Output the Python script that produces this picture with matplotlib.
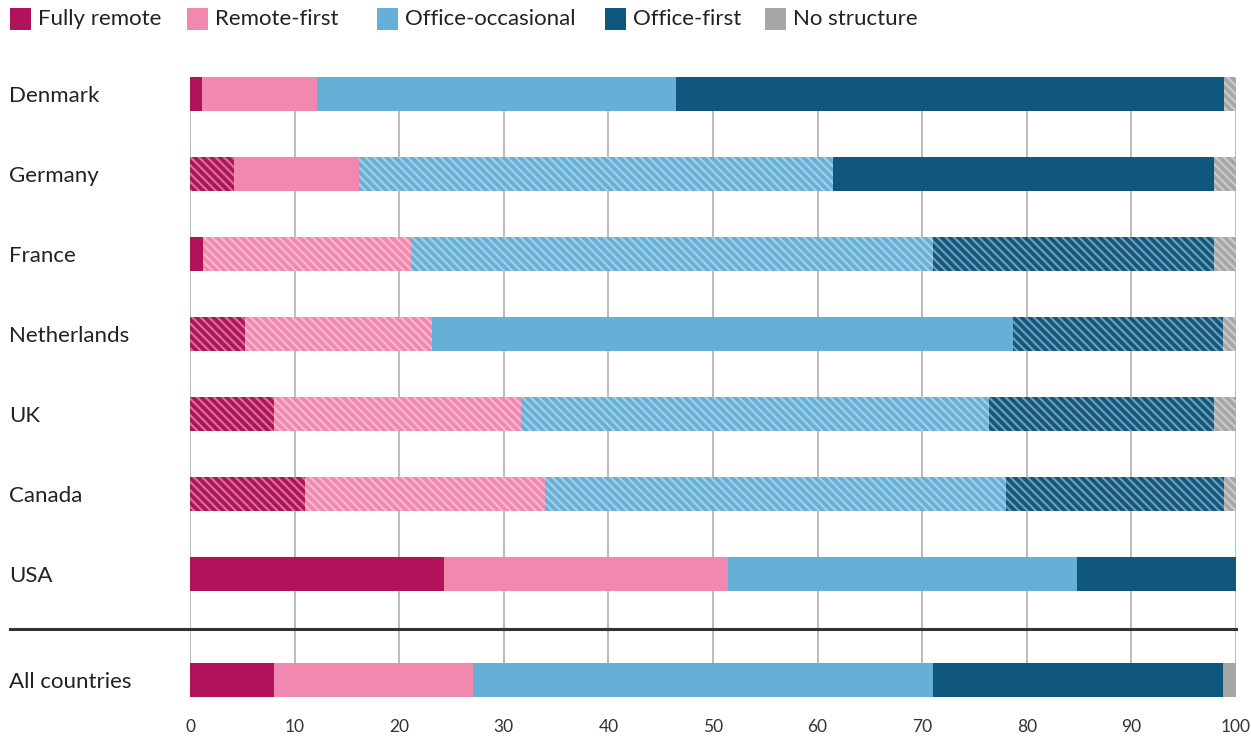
import numpy as np
import matplotlib
matplotlib.use("Agg")
import matplotlib.pyplot as plt
from matplotlib.patches import Rectangle
from matplotlib.colors import to_rgb
import matplotlib.transforms as mtransforms

# data (percent of respondents)
countries = ["Denmark", "Germany", "France", "Netherlands", "UK", "Canada", "USA", "All countries"]
categories = ["Fully remote", "Remote-first", "Office-occasional", "Office-first", "No structure"]
fully_remote = [1.1, 4.2, 1.2, 5.3, 8.0, 11.0, 24.3, 8.0]
remote_first = [11.0, 12.0, 19.9, 17.8, 23.6, 22.9, 27.1, 19.1]
office_occasional = [34.4, 45.3, 49.9, 55.6, 44.8, 44.1, 33.4, 43.9]
office_first = [52.4, 36.4, 26.9, 20.1, 21.5, 20.9, 15.2, 27.8]
no_structure = [1.1, 2.1, 2.1, 1.2, 2.1, 1.1, 0.0, 1.2]
# 1 = segment drawn hatched in the original
hatched = [
    [0, 0, 0, 0, 1],
    [1, 0, 1, 0, 1],
    [0, 1, 1, 1, 1],
    [1, 1, 0, 1, 1],
    [1, 1, 1, 1, 1],
    [1, 1, 1, 1, 1],
    [0, 0, 0, 0, 0],
    [0, 0, 0, 0, 0],
]
ticks = [0, 10, 20, 30, 40, 50, 60, 70, 80, 90, 100]

colors = ["#B0135A", "#F088AF", "#66AFD6", "#10577D", "#A6A6A6"]

plt.rcParams['font.family'] = ['Lato', 'DejaVu Sans']
plt.rcParams['hatch.linewidth'] = 1.6

fig = plt.figure(figsize=(12.51, 7.36), dpi=100)
W, H = 1251, 736
ax = fig.add_axes([190 / W, 1 - 697 / H, 1046 / W, (697 - 77) / H])

ypos = np.array([0, 1, 2, 3, 4, 5, 6, 7.325])
bar_h = 0.425

series = [fully_remote, remote_first, office_occasional, office_first, no_structure]
left = np.zeros(len(countries))
for j, vals in enumerate(series):
    vals = np.array(vals)
    base = np.array(to_rgb(colors[j]))
    light = base + (1 - base) * 0.4
    for i in range(len(countries)):
        if vals[i] <= 0:
            continue
        ax.barh(ypos[i], vals[i], left=left[i], height=bar_h, color=colors[j],
                edgecolor=light if hatched[i][j] else colors[j],
                linewidth=0, hatch='\\\\\\\\' if hatched[i][j] else None, zorder=2)
    left += vals

ax.set_xlim(0, 100)
ax.set_ylim(ypos[-1] + bar_h / 2, -bar_h / 2)
ax.set_xticks(ticks)
ax.grid(axis='x', color='#b5b5b5', linewidth=1.3)
ax.set_axisbelow(True)
for s in ax.spines.values():
    s.set_visible(False)
ax.tick_params(axis='both', length=0)
ax.tick_params(axis='x', labelsize=12.5, labelcolor='#333333', pad=16)
ax.set_yticks(ypos)
ax.set_yticklabels(countries, fontsize=16, color='#222222', ha='left')
ax.tick_params(axis='y', pad=181 * 72 / 100)

# separator line above the "All countries" row
trans = mtransforms.blended_transform_factory(fig.transFigure, ax.transData)
ax.plot([10 / W, 1236 / W], [6.6875, 6.6875], transform=trans, color='#333333',
        linewidth=2.2, clip_on=False, zorder=3)

# legend row along the top
legend_x = [10, 187, 377, 605, 765]
for x, c, lab in zip(legend_x, colors, categories):
    fig.patches.append(Rectangle((x / W, 1 - 30 / H), 21 / W, 22 / H,
                                 transform=fig.transFigure, facecolor=c, edgecolor='none'))
    fig.text((x + 28) / W, 1 - 19 / H, lab, fontsize=16, color='#222222',
             ha='left', va='center')

fig.savefig("out.png", dpi=100)
